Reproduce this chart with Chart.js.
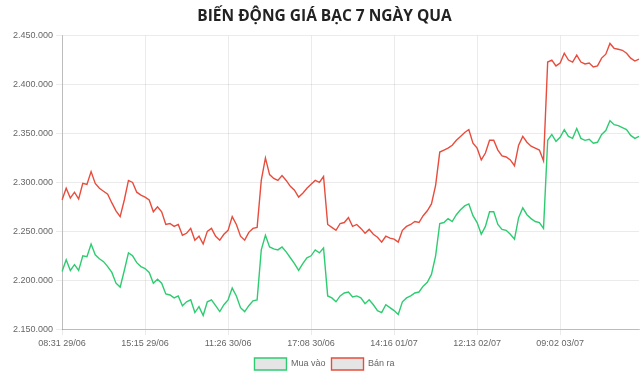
<!DOCTYPE html>
<html>
<head>
    <meta charset="utf-8">
    <title>Biến động giá bạc</title>
    <style>
        html, body { margin: 0; padding: 0; background: #fff; }
        .chart-container { position: relative; width: 640px; height: 387px; }
    </style>
</head>
<body>
<div class="chart-container">
    <canvas id="myChart"></canvas>
</div>
<script src="https://cdn.jsdelivr.net/npm/chart.js"></script>
<script>
    // nhan truc X (chi cac moc hien thi, cach nhau 20 diem)
    const tickLabels = ['08:31 29/06', '15:15 29/06', '11:26 30/06', '17:08 30/06', '14:16 01/07', '12:13 02/07', '09:02 03/07'];
    const tickStep = 20;

    // gia mua vao
    const buyValues = [
        2209000, 2221000, 2210000, 2216000, 2210000, 2225000, 2224000, 2237000, 2226000, 2222000,
        2219000, 2214000, 2208000, 2197000, 2193000, 2210000, 2228000, 2225000, 2218000, 2214000,
        2212000, 2208000, 2197000, 2201000, 2197000, 2186000, 2185000, 2182000, 2184000, 2174000,
        2178000, 2180000, 2167000, 2173000, 2164000, 2178000, 2180000, 2174000, 2168000, 2175000,
        2180000, 2192000, 2184000, 2172000, 2168000, 2174000, 2179000, 2180000, 2231000, 2246000,
        2234000, 2232000, 2231000, 2234000, 2229000, 2223000, 2217000, 2210000, 2217000, 2223000,
        2225000, 2231000, 2228000, 2233000, 2184000, 2182000, 2178000, 2184000, 2187000, 2188000,
        2183000, 2184000, 2182000, 2176000, 2180000, 2175000, 2169000, 2167000, 2175000, 2172000,
        2169000, 2165000, 2178000, 2182000, 2184000, 2187000, 2188000, 2194000, 2198000, 2206000,
        2225000, 2258000, 2259000, 2263000, 2260000, 2267000, 2272000, 2276000, 2278000, 2266000,
        2259000, 2247000, 2255000, 2270000, 2270000, 2257000, 2252000, 2251000, 2247000, 2242000,
        2264000, 2274000, 2267000, 2263000, 2260000, 2259000, 2253000, 2343000, 2349000, 2342000,
        2346000, 2354000, 2347000, 2345000, 2355000, 2345000, 2343000, 2344000, 2340000, 2341000,
        2349000, 2353000, 2363000, 2359000, 2358000, 2356000, 2354000, 2348000, 2345000, 2347000
    ];

    // gia ban ra
    const sellValues = [
        2282000, 2294000, 2284000, 2290000, 2283000, 2299000, 2298000, 2311000, 2299000, 2294000,
        2291000, 2288000, 2279000, 2271000, 2265000, 2282000, 2302000, 2300000, 2290000, 2287000,
        2285000, 2282000, 2270000, 2275000, 2270000, 2257000, 2258000, 2255000, 2257000, 2246000,
        2248000, 2253000, 2241000, 2245000, 2237000, 2250000, 2253000, 2245000, 2241000, 2247000,
        2251000, 2265000, 2257000, 2245000, 2241000, 2249000, 2253000, 2254000, 2302000, 2325000,
        2308000, 2304000, 2302000, 2307000, 2302000, 2296000, 2292000, 2285000, 2289000, 2294000,
        2298000, 2302000, 2300000, 2306000, 2257000, 2254000, 2251000, 2258000, 2259000, 2264000,
        2255000, 2257000, 2253000, 2248000, 2252000, 2247000, 2244000, 2239000, 2245000, 2243000,
        2242000, 2239000, 2251000, 2255000, 2257000, 2260000, 2259000, 2266000, 2271000, 2278000,
        2297000, 2331000, 2333000, 2335000, 2338000, 2343000, 2347000, 2351000, 2354000, 2340000,
        2335000, 2323000, 2330000, 2343000, 2343000, 2333000, 2327000, 2326000, 2323000, 2317000,
        2338000, 2347000, 2341000, 2337000, 2335000, 2333000, 2322000, 2423000, 2425000, 2419000,
        2422000, 2432000, 2425000, 2423000, 2430000, 2423000, 2421000, 2422000, 2418000, 2419000,
        2427000, 2431000, 2442000, 2437000, 2436000, 2435000, 2432000, 2427000, 2424000, 2426000
    ];

    // truc Y
    const yMin = 2150000;
    const yMax = 2450000;
    const yStep = 50000;

    const labels = buyValues.map((v, i) => (i % tickStep === 0 && tickLabels[i / tickStep]) ? tickLabels[i / tickStep] : '');

    function formatVnd(value) {
        return String(value).replace(/\B(?=(\d{3})+(?!\d))/g, '.');
    }

    Chart.defaults.font.family = "Arial, 'Liberation Sans', sans-serif";
    Chart.defaults.color = '#666';

    const chartConfig = {
        type: 'line',
        data: {
            labels: labels,
            datasets: [{
                label: 'Mua vào',
                data: buyValues,
                borderColor: '#2ecc71',
                backgroundColor: 'rgba(0, 0, 0, 0.1)',
                borderWidth: 1.4,
                pointRadius: 0,
                tension: 0,
                fill: false
            }, {
                label: 'Bán ra',
                data: sellValues,
                borderColor: '#e74c3c',
                backgroundColor: 'rgba(0, 0, 0, 0.1)',
                borderWidth: 1.4,
                pointRadius: 0,
                tension: 0,
                fill: false
            }]
        },
        options: {
            responsive: true,
            maintainAspectRatio: false,
            animation: false,
            layout: {
                padding: { left: 10, right: 1, top: 0, bottom: 7 }
            },
            plugins: {
                title: {
                    display: true,
                    text: 'BIẾN ĐỘNG GIÁ BẠC 7 NGÀY QUA',
                    color: '#222',
                    font: { family: "'Open Sans', Arial, sans-serif", size: 15.5, weight: 'bold' },
                    padding: { top: 7, bottom: 10 }
                },
                legend: {
                    position: 'bottom',
                    labels: {
                        boxWidth: 32,
                        boxHeight: 12,
                        font: { size: 9 },
                        padding: 6
                    }
                },
                tooltip: { enabled: false }
            },
            scales: {
                x: {
                    grid: { color: 'rgba(0, 0, 0, 0.08)', tickLength: 6 },
                    border: { color: 'rgba(0, 0, 0, 0.2)' },
                    ticks: {
                        autoSkip: false,
                        maxRotation: 0,
                        font: { size: 9 },
                        callback: function (value) {
                            const l = this.getLabelForValue(value);
                            return l === '' ? null : l;
                        }
                    }
                },
                y: {
                    min: yMin,
                    max: yMax,
                    grid: { color: 'rgba(0, 0, 0, 0.08)', tickLength: 6 },
                    border: { color: 'rgba(0, 0, 0, 0.2)' },
                    ticks: {
                        stepSize: yStep,
                        font: { size: 9 },
                        callback: value => formatVnd(value)
                    }
                }
            }
        }
    };

    const canvas = document.getElementById('myChart');
    const chart = new Chart(canvas, chartConfig);
</script>
</body>
</html>
